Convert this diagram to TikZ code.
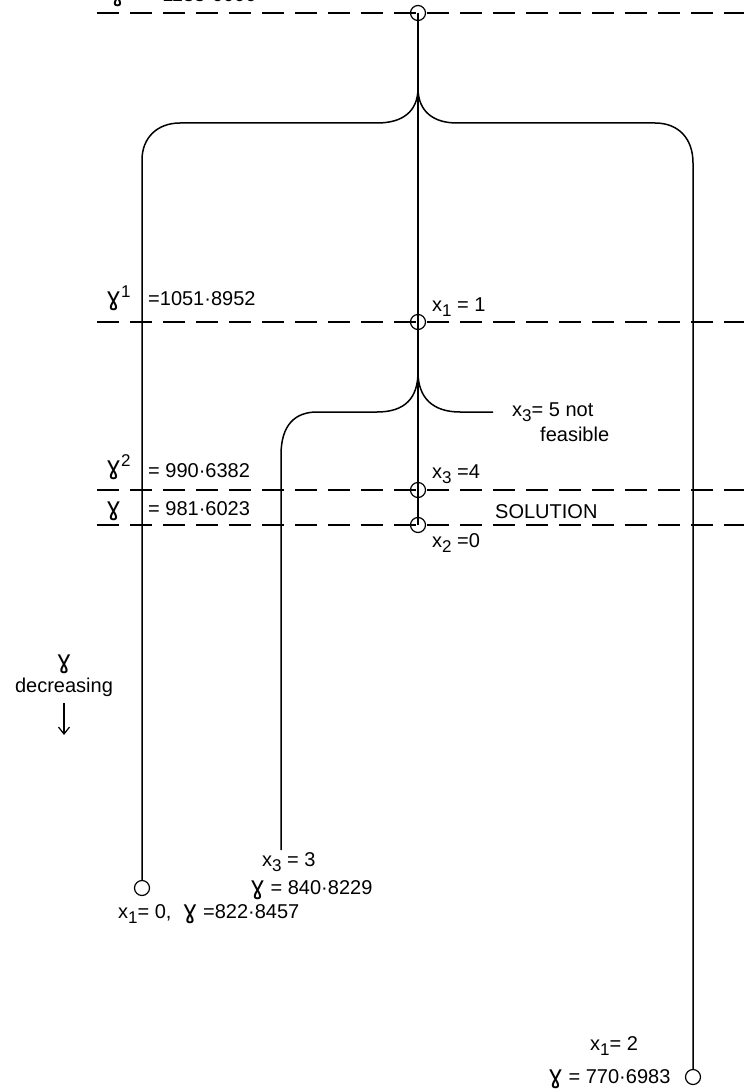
\documentclass[tikz,border=0pt]{standalone}
\usepackage{fontspec}
\setmainfont{Liberation Sans}
\newfontfamily\gfont{DejaVu Sans}
\usetikzlibrary{arrows.meta}
\newcommand\lo[1]{\raisebox{-0.5ex}{\fontsize{17}{17}\selectfont #1}}
\newcommand\hi[1]{\raisebox{0.75ex}{\fontsize{17}{17}\selectfont #1}}
\newcommand\gam{{\gfont\fontsize{25}{25}\selectfont ɣ}}
\begin{document}
\begin{tikzpicture}[x=1pt,y=-1pt,
  lbl/.style={font=\fontsize{20}{23}\selectfont, inner sep=0pt, anchor=base west},
  clbl/.style={font=\fontsize{20}{23}\selectfont, inner sep=0pt, anchor=base},
  dline/.style={line width=1.5pt, dash pattern=on 22pt off 11pt},
  edge/.style={line width=1.5pt},
  vtx/.style={circle, draw, line width=1.2pt, minimum size=15pt, inner sep=0pt}
]
\useasboundingbox (0,0) rectangle (744,1091);

% level lines
\draw[dline] (97,13) -- (744,13);
\draw[dline] (97,322) -- (744,322);
\draw[dline] (97,490) -- (744,490);
\draw[dline] (97,525) -- (744,525);

% vertices
\node[vtx] (v0) at (418,13) {};
\node[vtx] (v1) at (418,322) {};
\node[vtx] (v2) at (418,490) {};
\node[vtx] (v3) at (418,525) {};
\node[vtx] (a) at (142,888) {};
\node[vtx] (b) at (693,1077) {};
\coordinate (k1) at (418,88);
\coordinate (k2) at (418,372);
\coordinate (t3) at (281,850);
\coordinate (f5) at (493,412);

% main stem
\draw[edge] (v0.center) -- (v1.center) -- (v2.center) -- (v3.center);

% first branching
\draw[edge] (k1) .. controls (418,112) and (402,123) .. (377,123) -- (180,123)
  .. controls (157,123) and (142,138) .. (142,160) -- (a.north);
\draw[edge] (k1) .. controls (418,112) and (434,123) .. (457,123) -- (655,123)
  .. controls (678,123) and (693,138) .. (693,163) -- (b.north);

% second branching
\draw[edge] (k2) .. controls (418,398) and (405,412) .. (377,412) -- (317,412)
  .. controls (295,412) and (281,425) .. (281,455) -- (t3);
\draw[edge] (k2) .. controls (418,398) and (433,412) .. (460,412) -- (f5);

% labels
\node[lbl] (l0) at (110,2) {\gam\quad = 1133·6000};
\node[lbl] (l1) at (106,305) {\gam\hi{1}};
\node[lbl] (l1v) at (148,305) {=1051·8952};
\node[lbl] (x1) at (432,311) {x\lo{1} = 1};
\node[lbl] (x35) at (512,416) {x\lo{3}= 5 not};
\node[lbl] (fea) at (540,441) {feasible};
\node[lbl] (l2) at (106,474) {\gam\hi{2}};
\node[lbl] (l2v) at (148,477) {= 990·6382};
\node[lbl] (x34) at (432,478) {x\lo{3} =4};
\node[lbl] (l3) at (106,515) {\gam};
\node[lbl] (l3v) at (148,515) {= 981·6023};
\node[lbl] (sol) at (495,518) {SOLUTION};
\node[lbl] (x20) at (432,547) {x\lo{2} =0};

\node[clbl] (dg) at (64,668) {\gam};
\node[clbl] (dec) at (64,692) {decreasing};
\coordinate (ar1) at (64,703);
\coordinate (ar2) at (64,735);
\draw[line width=1.2pt, -{Straight Barb[length=7pt,width=11pt]}] (ar1) -- (ar2);

\node[lbl] (x33) at (262,866) {x\lo{3} = 3};
\node[lbl] (g3) at (250,894) {\gam\ = 840·8229};
\node[lbl] (x10) at (118,918) {x\lo{1}= 0,\ \ \gam\ =822·8457};
\node[lbl] (x12) at (590,1050) {x\lo{1}= 2};
\node[lbl] (g2) at (548,1083) {\gam\ = 770·6983};
\end{tikzpicture}
\end{document}
